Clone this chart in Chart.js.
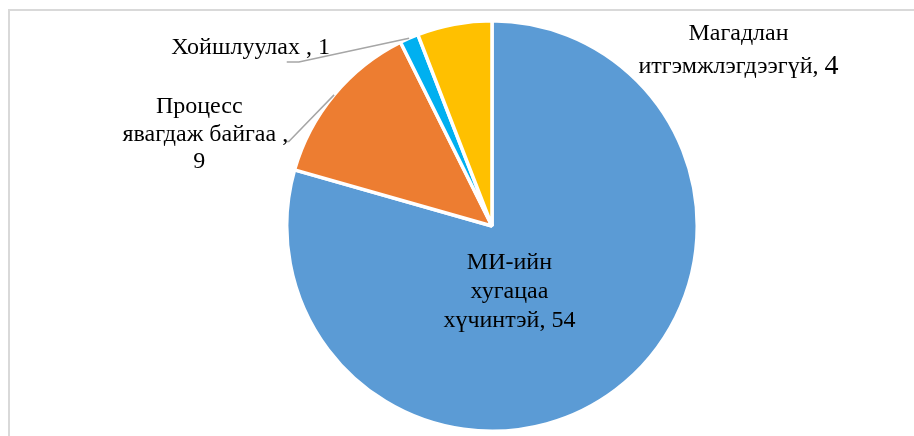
<!DOCTYPE html>
<html>
<head>
<meta charset="utf-8">
<script src="https://cdn.jsdelivr.net/npm/chart.js@4.4.0/dist/chart.umd.min.js"></script>
<style>
  html, body { margin: 0; padding: 0; background: #fff; }
  #wrap { position: relative; width: 914px; height: 436px; overflow: hidden; }
  #frame { position: absolute; left: 8px; top: 9px; width: 920px; height: 440px;
           border-left: 2px solid #d9d9d9; border-top: 2px solid #d9d9d9; }
  canvas { position: absolute; left: 0; top: 0; }
</style>
</head>
<body>
<div id="wrap">
  <div id="frame"></div>
  <canvas id="myChart" width="914" height="436"></canvas>
</div>
<script>
// data
const categories = ['МИ-ийн хугацаа хүчинтэй', 'Процесс явагдаж байгаа', 'Хойшлуулах', 'Магадлан итгэмжлэгдээгүй'];
const values = [54, 9, 1, 4];
const sliceColors = ['#5b9bd5', '#ed7d31', '#00b0f0', '#ffc000'];

// label text lines per slice: [text, unused, x shift px, larger tail run]
const labelLines = [
    [['МИ-ийн'], ['хугацаа'], ['хүчинтэй, 54']],
    [['Процесс'], ['явагдаж байгаа ,', 0, 6], ['9']],
    [['Хойшлуулах , 1']],
    [['Магадлан'], ['итгэмжлэгдээгүй, ', 0, 0, '4']]
];

// label placement relative to pie centre, in radii; leader = elbow point (or null)
const labelPlace = [
    { x: 0.085, y: 0.32, gap: 29, leader: null },
    { x: -1.426, y: -0.446, gap: 27.5, leader: [-0.99, -0.412, -1.005] },
    { x: -1.176, y: -0.868, gap: 0, leader: [-0.941, -0.799, -1.00] },
    { x: 1.201, y: -0.858, gap: 33, leader: null }
];

const FONT = '"Liberation Serif", "Times New Roman", serif';
const BASE = 24, BIG = 28;

const labelPlugin = {
    id: 'sliceLabels',
    afterDatasetsDraw(chart) {
        const ctx = chart.ctx;
        const arcs = chart.getDatasetMeta(0).data;
        ctx.save();
        arcs.forEach((arc, i) => {
            const { x, y, startAngle, endAngle, outerRadius } = arc.getProps(['x', 'y', 'startAngle', 'endAngle', 'outerRadius'], true);
            const R = outerRadius;
            const mid = (startAngle + endAngle) / 2;
            const p = labelPlace[i];
            const cx = x + p.x * R;
            const cy = y + p.y * R;

            if (p.leader) {
                ctx.strokeStyle = '#a6a6a6';
                ctx.lineWidth = 1.5;
                ctx.beginPath();
                ctx.moveTo(x + Math.cos(mid) * R, y + Math.sin(mid) * R);
                ctx.lineTo(x + p.leader[0] * R, y + p.leader[1] * R);
                ctx.lineTo(x + p.leader[2] * R, y + p.leader[1] * R);
                ctx.stroke();
            }

            const lines = labelLines[i];
            const top = cy - (lines.length - 1) * p.gap / 2;
            ctx.fillStyle = '#000';
            ctx.textBaseline = 'middle';
            lines.forEach((ln, k) => {
                const ly = top + k * p.gap;
                const lx = cx + (ln[2] || 0);
                ctx.font = BASE + 'px ' + FONT;
                if (ln[3]) {
                    // last run in a larger size
                    const w1 = ctx.measureText(ln[0]).width;
                    ctx.font = BIG + 'px ' + FONT;
                    const w2 = ctx.measureText(ln[3]).width;
                    const left = lx - (w1 + w2) / 2;
                    ctx.textAlign = 'left';
                    ctx.fillText(ln[3], left + w1, ly);
                    ctx.font = BASE + 'px ' + FONT;
                    ctx.fillText(ln[0], left, ly);
                } else {
                    ctx.textAlign = 'center';
                    ctx.fillText(ln[0], lx, ly);
                }
            });
        });
        ctx.restore();
    }
};

const ctx = document.getElementById('myChart').getContext('2d');
const myChart = new Chart(ctx, {
    type: 'pie',
    data: {
        labels: categories,
        datasets: [{
            data: values,
            backgroundColor: sliceColors,
            borderColor: '#ffffff',
            borderWidth: 3.5
        }]
    },
    options: {
        responsive: false,
        animation: false,
        layout: { padding: { left: 285, right: 215, top: 19, bottom: 3 } },
        plugins: {
            legend: { display: false },
            tooltip: { enabled: false },
            title: { display: false }
        }
    },
    plugins: [labelPlugin]
});
</script>
</body>
</html>
